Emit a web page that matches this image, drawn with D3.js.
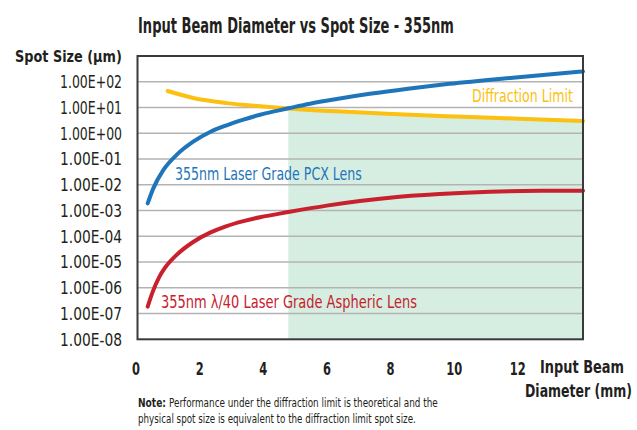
<!DOCTYPE html>
<html>
<head>
<meta charset="utf-8">
<script src="https://cdn.jsdelivr.net/npm/d3@7"></script>
<style>
  html, body { margin: 0; padding: 0; background: #fff; }
  svg { display: block; }
  text { font-family: "Liberation Sans Narrow", "DejaVu Sans Condensed", "Roboto Condensed", "Liberation Sans", sans-serif; font-stretch: condensed; }
</style>
</head>
<body>
<svg id="chart" width="637" height="430"></svg>
<script>
// ---- data ----
const pcxDiameter = [0.32, 0.5, 0.81, 1.23, 1.75, 2.28, 2.8, 3.33, 3.85, 4.37, 4.74, 5.42, 6.26, 7.3, 8.5, 9.8, 11.8, 14.0];
const pcxSpot     = [1.9e-3, 7.4e-3, 3.7e-2, 0.145, 0.47, 1.12, 2.04, 3.39, 5.25, 7.41, 9.33, 14.1, 21.4, 33.9, 53.7, 83.2, 144.5, 251];

const asphDiameter = [0.32, 0.48, 0.69, 0.86, 1.23, 1.75, 2.28, 2.8, 3.33, 3.85, 4.74, 5.95, 6.99, 7.93, 9.5, 11.08, 12.65, 14.0];
const asphSpot     = [1.86e-7, 7.1e-7, 2.7e-6, 5.9e-6, 1.9e-5, 6.0e-5, 1.38e-4, 2.5e-4, 3.9e-4, 5.5e-4, 8.7e-4, 1.55e-3, 2.34e-3, 3.16e-3, 4.37e-3, 5.37e-3, 5.8e-3, 5.9e-3];

const diffDiameter = [0.95, 1.75, 2.8, 3.85, 4.74, 6.26, 8.0, 10.0, 12.0, 14.0];
const diffSpot     = [43.7, 23.4, 14.8, 11.2, 9.23, 7.08, 5.56, 4.47, 3.67, 3.02];

const crossoverDiameter = 4.74;

const xTicks = [0, 2, 4, 6, 8, 10, 12];
const yTicks = [1e2, 1e1, 1e0, 1e-1, 1e-2, 1e-3, 1e-4, 1e-5, 1e-6, 1e-7, 1e-8];
const xDomain = [0, 14];
const yDomain = [1e-8, 1e3];

// ---- layout ----
const svg = d3.select("#chart");
const plot = { left: 137.5, right: 583, top: 56, bottom: 339.3 };

const x = d3.scaleLinear().domain(xDomain).range([plot.left, plot.right]);
const y = d3.scaleLog().domain(yDomain).range([plot.bottom, plot.top]);

const colors = { pcx: "#1f75ba", asph: "#c8202d", diff: "#fcc010", fill: "#d6eee1", grid: "#b3b3b3", border: "#3a3a3a", text: "#231f20" };

const zip = (xs, ys) => xs.map((d, i) => ({ d, s: ys[i] }));
const pcx = zip(pcxDiameter, pcxSpot);
const asph = zip(asphDiameter, asphSpot);
const diff = zip(diffDiameter, diffSpot);

// text helper: draws text, then compresses it horizontally to a target width
function label(parent, px, py, str, o) {
  const t = parent.append("text")
    .attr("x", 0).attr("y", 0)
    .attr("font-size", o.size)
    .attr("font-weight", o.weight || "normal")
    .attr("fill", o.fill || colors.text)
    .attr("text-anchor", o.anchor || "start")
    .attr("dy", o.dy || null)
    .text(str);
  const w = t.node().getComputedTextLength();
  const s = o.width ? o.width / w : 1;
  t.attr("transform", `translate(${px},${py}) scale(${s},1)`);
  return t;
}

// green region: under diffraction limit beyond crossover
svg.append("clipPath").attr("id", "clipRegion")
  .append("rect")
  .attr("x", x(crossoverDiameter)).attr("y", plot.top)
  .attr("width", plot.right - x(crossoverDiameter)).attr("height", plot.bottom - plot.top);

svg.append("path")
  .datum(diff)
  .attr("clip-path", "url(#clipRegion)")
  .attr("fill", colors.fill)
  .attr("d", d3.area().curve(d3.curveMonotoneX)
    .x(p => x(p.d)).y0(plot.bottom).y1(p => y(p.s)));

// gridlines
svg.append("g").selectAll("line")
  .data(yTicks.filter(v => v > yDomain[0] && v < yDomain[1]))
  .join("line")
  .attr("x1", plot.left).attr("x2", plot.right)
  .attr("y1", v => y(v)).attr("y2", v => y(v))
  .attr("stroke", colors.grid).attr("stroke-width", 1.5);

// curves
const line = d3.line().curve(d3.curveMonotoneX).x(p => x(p.d)).y(p => y(p.s));
[[diff, colors.diff], [pcx, colors.pcx], [asph, colors.asph]].forEach(([data, c]) => {
  svg.append("path").datum(data)
    .attr("fill", "none").attr("stroke", c).attr("stroke-width", 4)
    .attr("stroke-linecap", "round")
    .attr("d", line);
});

// border
svg.append("rect")
  .attr("x", plot.left).attr("y", plot.top)
  .attr("width", plot.right - plot.left).attr("height", plot.bottom - plot.top)
  .attr("fill", "none").attr("stroke", colors.border).attr("stroke-width", 2);

// y tick labels
const fmtE = v => {
  const e = Math.round(Math.log10(v));
  return "1.00E" + (e < 0 ? "-" : "+") + String(Math.abs(e)).padStart(2, "0");
};
const yLab = svg.append("g");
yTicks.forEach(v => label(yLab, 122, y(v), fmtE(v), { size: 17.5, anchor: "end", dy: "0.36em", width: 62 }));

// x tick labels
const xLab = svg.append("g");
xTicks.forEach(v => label(xLab, x(v) - 1.5, 375, String(v), { size: 17, weight: "bold", anchor: "middle", width: String(v).length * 8 }));

// title
label(svg, 138, 33, "Input Beam Diameter vs Spot Size - 355nm", { size: 22, weight: "bold", width: 316 });

// y axis title
label(svg, 15, 62, "Spot Size (µm)", { size: 16, weight: "bold", width: 107 });

// x axis title
label(svg, 540, 373, "Input Beam", { size: 17, weight: "bold", width: 84 });
label(svg, 525, 397, "Diameter (mm)", { size: 17, weight: "bold", width: 107 });

// series labels
label(svg, 472, 102, "Diffraction Limit", { size: 17, fill: colors.diff, width: 101 });
label(svg, 175, 180, "355nm Laser Grade PCX Lens", { size: 17, fill: colors.pcx, width: 187 });
label(svg, 161, 308, "355nm λ/40 Laser Grade Aspheric Lens", { size: 17, fill: colors.asph, width: 256 });

// note
label(svg, 138, 407, "Note:", { size: 12.5, weight: "bold", width: 28 });
label(svg, 169, 407, "Performance under the diffraction limit is theoretical and the", { size: 12.5, width: 269 });
label(svg, 138, 423, "physical spot size is equivalent to the diffraction limit spot size.", { size: 12.5, width: 278 });
</script>
</body>
</html>
